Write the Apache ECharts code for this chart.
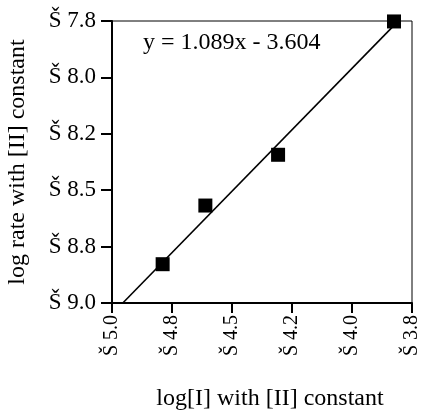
<!DOCTYPE html>
<html>
<head>
<meta charset="utf-8">
<script src="https://cdn.jsdelivr.net/npm/echarts@6/dist/echarts.min.js"></script>
<style>
html,body{margin:0;padding:0;background:#fff;}
#chart{width:425px;height:412px;}
</style>
</head>
<body>
<div id="chart"></div>
<script>
// Data
var xValues = [-4.789, -4.611, -4.308, -3.825];
var yValues = [-8.828, -8.568, -8.343, -7.752];
var fitSlope = [1.089];
var fitIntercept = [-3.604];
var fitXRange = [-4.955, -3.825];
var equationText = ['y = 1.089x - 3.604'];
var xTickValues = [-5.0, -4.75, -4.5, -4.25, -4.0, -3.75];
var xTickLabels = ['Š 5.0', 'Š 4.8', 'Š 4.5', 'Š 4.2', 'Š 4.0', 'Š 3.8'];
var yTickValues = [-9.0, -8.75, -8.5, -8.25, -8.0, -7.75];
var yTickLabels = ['Š 9.0', 'Š 8.8', 'Š 8.5', 'Š 8.2', 'Š 8.0', 'Š 7.8'];
var xAxisTitle = 'log[I] with [II] constant';
var yAxisTitle = 'log rate with [II] constant';

function labelFor(values, labels, v) {
  for (var i = 0; i < values.length; i++) {
    if (Math.abs(values[i] - v) < 1e-6) return labels[i];
  }
  return '';
}

var scatterData = xValues.map(function (x, i) { return [x, yValues[i]]; });
var fitData = fitXRange.map(function (x) { return [x, fitSlope[0] * x + fitIntercept[0]]; });

var font = 'Liberation Serif';
var chart = echarts.init(document.getElementById('chart'));
chart.setOption({
  animation: false,
  backgroundColor: '#fff',
  grid: {
    left: 112, right: 13, top: 21, bottom: 109,
    containLabel: false,
    outerBoundsMode: 'none',
    show: true, borderColor: '#000', borderWidth: 1
  },
  xAxis: {
    type: 'value',
    min: -5.0, max: -3.75, interval: 0.25,
    name: xAxisTitle,
    nameLocation: 'middle',
    nameGap: 84,
    nameTextStyle: { fontFamily: font, fontSize: 24, color: '#000', padding: [0, 0, 0, 16] },
    axisLine: { show: true, onZero: false, lineStyle: { color: '#000', width: 2 } },
    axisTick: { show: true, length: 10, lineStyle: { color: '#000', width: 2 } },
    axisLabel: {
      rotate: 90, margin: 12,
      fontFamily: font, fontSize: 20, color: '#000',
      formatter: function (v) { return labelFor(xTickValues, xTickLabels, v); }
    },
    splitLine: { show: false }
  },
  yAxis: {
    type: 'value',
    min: -9.0, max: -7.75, interval: 0.25,
    name: yAxisTitle,
    nameLocation: 'middle',
    nameGap: 82,
    nameRotate: 90,
    nameTextStyle: { fontFamily: font, fontSize: 24, color: '#000' },
    axisLine: { show: true, onZero: false, lineStyle: { color: '#000', width: 2 } },
    axisTick: { show: true, length: 11, lineStyle: { color: '#000', width: 2 } },
    axisLabel: {
      margin: 16,
      fontFamily: font, fontSize: 23, color: '#000',
      formatter: function (v) { return labelFor(yTickValues, yTickLabels, v); }
    },
    splitLine: { show: false }
  },
  graphic: [{
    type: 'text',
    left: 143, top: 31,
    style: { text: equationText[0], fontFamily: font, fontSize: 24, fill: '#000' }
  }],
  series: [
    {
      type: 'line',
      data: fitData,
      showSymbol: false,
      symbol: 'none',
      lineStyle: { color: '#000', width: 1.6 },
      z: 2
    },
    {
      type: 'scatter',
      data: scatterData,
      symbol: 'rect',
      symbolSize: 14,
      itemStyle: { color: '#000', opacity: 1 },
      z: 3
    }
  ]
});
</script>
</body>
</html>
